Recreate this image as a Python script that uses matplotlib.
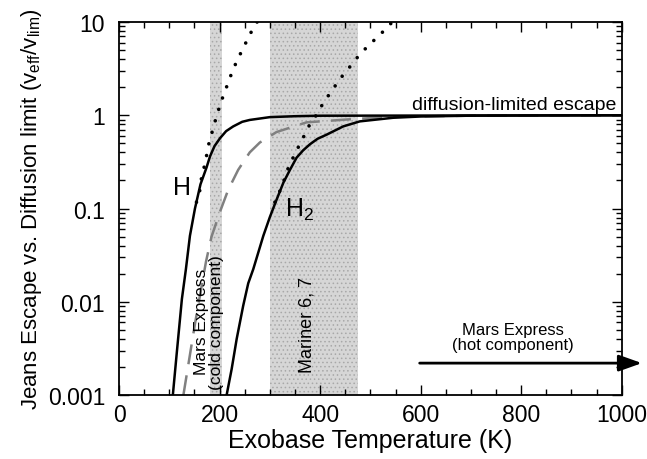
import matplotlib
matplotlib.use("Agg")
import matplotlib.pyplot as plt
from matplotlib.ticker import FixedLocator, FixedFormatter, LogLocator, NullFormatter

plt.rcParams["font.family"] = ["Liberation Sans", "DejaVu Sans"]
plt.rcParams["mathtext.fontset"] = "custom"
plt.rcParams["mathtext.rm"] = "Liberation Sans"
plt.rcParams["mathtext.it"] = "Liberation Sans"
plt.rcParams["hatch.linewidth"] = 0.6

# H: effective escape (solid) and pure Jeans escape (dotted), relative to diffusion limit
h_temp = [107, 115, 125, 133, 141, 151, 162, 174, 181, 190, 201, 213, 227, 245, 260, 300, 350, 400, 1000]
h_eff = [0.001, 0.0029, 0.0107, 0.0224, 0.051, 0.100, 0.182, 0.275, 0.363, 0.468, 0.569,
         0.676, 0.759, 0.851, 0.891, 0.955, 0.977, 0.989, 1.0]
h_jeans_temp = [154, 160, 163, 168, 173, 177, 183, 189, 196, 203, 211, 219, 228, 238, 249, 259, 274, 276]
h_jeans = [0.117, 0.148, 0.20, 0.26, 0.34, 0.46, 0.60, 0.79, 1.06, 1.40, 1.82, 2.4, 3.2,
           4.2, 5.5, 7.2, 9.8, 10.5]

# H2
h2_temp = [214, 224, 234, 247, 257, 267, 287, 300, 313, 327, 340, 353, 366, 380, 395, 413,
           446, 479, 545, 600, 700, 1000]
h2_eff = [0.001, 0.0019, 0.0040, 0.0091, 0.0158, 0.0224, 0.051, 0.081, 0.123, 0.19, 0.26,
          0.35, 0.42, 0.49, 0.56, 0.62, 0.76, 0.86, 0.94, 0.97, 0.99, 1.0]
h2_jeans_temp = [310, 319, 328, 335, 345, 357, 368, 379, 394, 407, 423, 438, 457, 476, 496, 518, 542, 545]
h2_jeans = [0.117, 0.15, 0.20, 0.26, 0.34, 0.46, 0.60, 0.79, 1.035, 1.38, 1.82, 2.4, 3.2,
            4.3, 5.6, 7.2, 9.8, 10.5]

# gray dashed curve
mix_temp = [128, 140, 151, 162, 173, 184, 201, 217, 237, 260, 280, 313, 373, 466, 550, 700, 1000]
mix_eff = [0.001, 0.0025, 0.0058, 0.0126, 0.027, 0.050, 0.093, 0.158, 0.26, 0.40, 0.51,
           0.66, 0.84, 0.91, 0.965, 0.99, 1.0]

# observed temperature ranges
mex_cold = (180, 204)
mariner = (300, 476)
mex_hot_start = 598

fig = plt.figure(figsize=(6.47, 4.60), dpi=100)
ax = fig.add_axes([0.184, 0.139, 0.777, 0.811])

for lo, hi in (mex_cold, mariner):
    ax.axvspan(lo, hi, facecolor="#d6d6d6", edgecolor="#a8a8a8", hatch="....", lw=0, zorder=0)

ax.plot(h_temp, h_eff, color="black", lw=1.8, zorder=3)
ax.plot(h2_temp, h2_eff, color="black", lw=1.8, zorder=3)
ax.plot(mix_temp, mix_eff, color="#808080", lw=1.8, dashes=(8, 4.5), zorder=2)
for t, v in ((h_jeans_temp, h_jeans), (h2_jeans_temp, h2_jeans)):
    ax.plot(t, v, color="black", lw=2.6, linestyle=(0, (0.01, 3.3)),
            dash_capstyle="round", zorder=2)

ax.set_xlim(0, 1000)
ax.set_yscale("log")
ax.set_ylim(0.001, 10)

ax.xaxis.set_major_locator(FixedLocator([0, 200, 400, 600, 800, 1000]))
ax.xaxis.set_minor_locator(FixedLocator(range(0, 1001, 50)))
yt = [0.001, 0.01, 0.1, 1, 10]
ax.yaxis.set_major_locator(FixedLocator(yt))
ax.yaxis.set_major_formatter(FixedFormatter(["0.001", "0.01", "0.1", "1", "10"]))
ax.yaxis.set_minor_locator(LogLocator(base=10, subs=range(2, 10)))
ax.yaxis.set_minor_formatter(NullFormatter())
ax.tick_params(which="both", direction="in", top=True, right=True, width=1.0)
ax.tick_params(which="major", length=7, labelsize=16.5)
ax.tick_params(axis="y", which="major", pad=10)
ax.tick_params(axis="x", which="major", pad=6)
ax.tick_params(which="minor", length=4)
for s in ax.spines.values():
    s.set_linewidth(1.3)

ax.set_xlabel("Exobase Temperature (K)", fontsize=18, labelpad=1)
ax.set_ylabel(r"Jeans Escape vs. Diffusion limit (v$_\mathrm{eff}$/v$_\mathrm{lim}$)",
              fontsize=16, labelpad=3)

ax.text(107, 0.143, "H", fontsize=18, ha="left", va="baseline")
ax.text(330, 0.083, r"H$_2$", fontsize=18, ha="left", va="baseline")
ax.text(990, 1.17, "diffusion-limited escape", fontsize=14, ha="right", va="baseline")
ax.text(179, 0.0062, "Mars Express\n(cold component)", fontsize=12.5, rotation=90,
        ha="center", va="center", multialignment="center", linespacing=1.0)
ax.text(374, 0.0058, "Mariner 6, 7", fontsize=13, rotation=90, ha="center", va="center")
ax.text(783, 0.0029, "Mars Express\n(hot component)", fontsize=12, ha="center",
        va="bottom", multialignment="center", linespacing=1.0)
ax.annotate("", xy=(1040, 0.0022), xytext=(mex_hot_start, 0.0022),
            arrowprops=dict(arrowstyle="-|>,head_length=0.7,head_width=0.25",
                            mutation_scale=20, lw=2, color="black",
                            shrinkA=0, shrinkB=0),
            annotation_clip=False)

fig.savefig("out.png", dpi=100)
